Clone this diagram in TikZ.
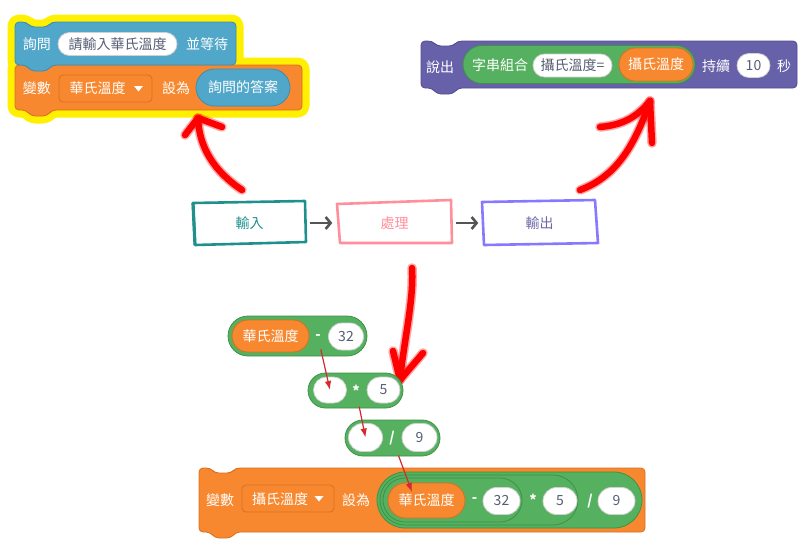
\documentclass[tikz,border=0pt]{standalone}
\usepackage{fontspec}
\setmainfont{Noto Sans CJK TC}
\usetikzlibrary{shapes.misc,arrows.meta}
\definecolor{sblue}{HTML}{51A7C9}
\definecolor{sblueD}{HTML}{3A8DB0}
\definecolor{sorange}{HTML}{F7882F}
\definecolor{sorangeD}{HTML}{D96F1E}
\definecolor{spurple}{HTML}{6661A9}
\definecolor{spurpleD}{HTML}{524D92}
\definecolor{sgreen}{HTML}{55B160}
\definecolor{sgreenD}{HTML}{3E9147}
\definecolor{stext}{HTML}{575E75}
\definecolor{syellow}{HTML}{FFEF00}
\definecolor{fteal}{HTML}{1F908C}
\definecolor{fpink}{HTML}{FF8F9A}
\definecolor{fpurple}{HTML}{8877FF}
\definecolor{fpurpleT}{HTML}{6E68A8}
\definecolor{thinred}{HTML}{D42A2E}
\definecolor{garrow}{HTML}{555555}
\newcommand\stackblock[5]{%
  \draw[rounded corners=4pt,line width=0.8pt,#5] (#1,#2) -- ({#1+11},#2) -- ({#1+16},{#2+5}) -- ({#1+32},{#2+5}) -- ({#1+37},#2) -- (#3,#2) -- (#3,#4) -- ({#1+37},#4) -- ({#1+32},{#4+6}) -- ({#1+16},{#4+6}) -- ({#1+11},#4) -- (#1,#4) -- cycle;}
\begin{document}
\begin{tikzpicture}[x=1pt,y=-1pt,
  every node/.style={inner sep=0pt, font=\fontsize{14}{16}\selectfont},
  lbl/.style={text=white},
  pill/.style={rounded rectangle, draw, line width=0.8pt},
  wpill/.style={pill, fill=white, draw=black!18, text=stext},
  opill/.style={pill, fill=sorange, draw=sorangeD, text=white},
  gpill/.style={pill, fill=sgreen, draw=sgreenD},
  bpill/.style={pill, fill=sblue, draw=sblueD, text=white},
  dd/.style={draw=sorangeD, fill=sorange, rounded corners=4pt, line width=0.8pt, rectangle},
  sym/.style={text=white, font=\bfseries\fontsize{14}{16}\selectfont},
  flowtext/.style={minimum width=110pt, minimum height=42pt},
  sketch/.style={line width=2.6pt, line join=round},
  flowarrow/.style={draw=garrow, line width=2.6pt, -{Straight Barb[length=5pt,width=12pt]}},
  bigred/.style={draw=red, line width=6.5pt, line cap=round, line join=round},
  redglow/.style={draw=red, opacity=0.35, line width=9.5pt, line cap=round, line join=round},
  thinarrow/.style={draw=thinred, line width=1.2pt, -{Latex[length=9pt,width=6.5pt]}}]
\useasboundingbox (0,0) rectangle (809,544);

% ---------- top-left: yellow highlighted stack ----------
\stackblock{15}{22}{236}{65}{fill=syellow,draw=syellow,line width=15pt,line join=round}
\stackblock{15}{65}{302}{110}{fill=syellow,draw=syellow,line width=15pt,line join=round}
\stackblock{15}{65}{302}{110}{fill=sorange,draw=sorangeD}
\stackblock{15}{22}{236}{65}{fill=sblue,draw=sblueD}
\node[lbl] (ask) at (37,44) {詢問};
\node[wpill, minimum width=119pt, minimum height=23pt] (askin) at (117.5,44) {請輸入華氏溫度};
\node[lbl] (wait) at (207,44) {並等待};
\node[lbl] (var1) at (37,88) {變數};
\node[dd, minimum width=93pt, minimum height=27pt] (dd1) at (105.5,88.5) {};
\node[lbl] (dd1t) at (97.5,88) {華氏溫度};
\fill[white] (134,86) -- (143,86) -- (138.5,91.5) -- cycle;
\node[lbl] (set1) at (176,88) {設為};
\node[bpill, minimum width=94pt, minimum height=37pt] (answer) at (243,87.5) {詢問的答案};

% ---------- top-right: purple say block ----------
\stackblock{421}{41}{797}{88}{fill=spurple,draw=spurpleD}
\node[lbl] (say) at (440,67) {說出};
\node[gpill, minimum width=232pt, minimum height=38pt] (join) at (579,64.5) {};
\node[lbl] (jointxt) at (500,65.5) {字串組合};
\node[wpill, minimum width=79pt, minimum height=23pt] (jin) at (572.5,65.5) {攝氏溫度=};
\node[opill, minimum width=74pt, minimum height=33pt] (cvar) at (656,64.5) {攝氏溫度};
\node[lbl] (for) at (716,66) {持續};
\node[wpill, minimum width=33pt, minimum height=24pt] (ten) at (753.5,65.5) {10};
\node[lbl] (sec) at (784,66) {秒};

% ---------- middle flow ----------
\node[flowtext, text=fteal] (fin) at (249.5,223) {輸入};
\node[flowtext, text=fpink] (fproc) at (394.5,223) {處理};
\node[flowtext, text=fpurpleT] (fout) at (539.5,223) {輸出};
\draw[sketch, fteal] (193,203) -- (305,201) -- (306,242) -- (195,245) -- cycle;
\draw[sketch, fteal, line width=3.2pt] (193,203) -- (195,245);
\draw[sketch, fpink] (337,204) -- (451,200) -- (452,243) -- (340,243) -- cycle;
\draw[sketch, fpurple] (482,202) -- (595,200) -- (598,243) -- (484,245) -- cycle;
\draw[flowarrow, shorten <=5pt, shorten >=7pt] (fin.east) -- (fproc.west);
\draw[flowarrow, shorten <=6pt, shorten >=6pt] (fproc.east) -- (fout.west);

% ---------- big red hand-drawn arrows ----------
\coordinate (r1tail) at (242,190);
\coordinate (r1tip) at (198,118);
\coordinate (r2tail) at (580,190);
\coordinate (r2tip) at (650,101);
\coordinate (r3tail) at (412,268);
\coordinate (r3tip) at (400,380);
\foreach \s in {redglow,bigred}{
  \draw[\s] (r1tail) .. controls (215,172) and (199,148) .. (r1tip);
  \draw[\s] (185,135) -- (r1tip) -- (222,127);
  \draw[\s] (r2tail) .. controls (618,176) and (636,142) .. (r2tip);
  \draw[\s] (600,127) .. controls (622,125) and (636,118) .. (r2tip) -- (652,143);
  \draw[\s] (r3tail) .. controls (414,300) and (404,340) .. (r3tip);
  \draw[\s] (393,351) -- (r3tip) -- (423,353);
}

% ---------- lower: step reporters ----------
\node[gpill, minimum width=139pt, minimum height=40pt] (rep1) at (297.5,336) {};
\node[opill, minimum width=77pt, minimum height=32pt] (f1) at (270.5,336) {華氏溫度};
\node[sym] (m1) at (318,337) {-};
\node[wpill, minimum width=35pt, minimum height=27pt] (n32a) at (346,336.5) {32};

\node[gpill, minimum width=95pt, minimum height=35pt] (rep2) at (355.5,390.5) {};
\node[wpill, minimum width=33pt, minimum height=26pt] (w2l) at (330,390) {};
\node[sym] (t2) at (356,391) {*};
\node[wpill, minimum width=33pt, minimum height=26pt] (n5a) at (383.5,390) {5};

\node[gpill, minimum width=95pt, minimum height=36pt] (rep3) at (392.5,438) {};
\node[wpill, minimum width=34pt, minimum height=28pt] (w3l) at (365.5,437.5) {};
\node[sym] (d3) at (392,438) {/};
\node[wpill, minimum width=35pt, minimum height=28pt] (n9a) at (419.5,437.5) {9};

% ---------- bottom: final set block ----------
\stackblock{199}{468}{645}{532}{fill=sorange,draw=sorangeD}
\node[lbl] (var2) at (220,500) {變數};
\node[dd, minimum width=92pt, minimum height=27pt] (dd2) at (288,498.5) {};
\node[lbl] (dd2t) at (280,499) {攝氏溫度};
\fill[white] (314.5,496) -- (323.5,496) -- (319,501.5) -- cycle;
\node[lbl] (set2) at (356,500) {設為};
\node[gpill, minimum width=265pt, minimum height=56pt] (g1) at (509.5,500) {};
\node[gpill, minimum width=198pt, minimum height=50pt] (g2) at (479,500) {};
\node[gpill, minimum width=139pt, minimum height=44pt] (g3) at (452.5,500) {};
\node[opill, minimum width=77pt, minimum height=35pt] (f2) at (426.5,500.5) {華氏溫度};
\node[sym] (bm) at (474.5,500) {-};
\node[wpill, minimum width=37pt, minimum height=27pt] (n32b) at (501.5,501) {32};
\node[sym] (bt) at (533,500) {*};
\node[wpill, minimum width=34pt, minimum height=27pt] (n5b) at (560,501) {5};
\node[sym] (bd) at (590,501) {/};
\node[wpill, minimum width=37pt, minimum height=27pt] (n9b) at (616.5,501) {9};

% ---------- thin red arrows ----------
\coordinate (a3end) at (412,492);
\draw[thinarrow, shorten <=10pt] (m1) -- (w2l.center);
\draw[thinarrow, shorten <=10pt] (t2) -- (w3l.center);
\draw[thinarrow, shorten <=11pt] (d3) -- (a3end);
\end{tikzpicture}
\end{document}
